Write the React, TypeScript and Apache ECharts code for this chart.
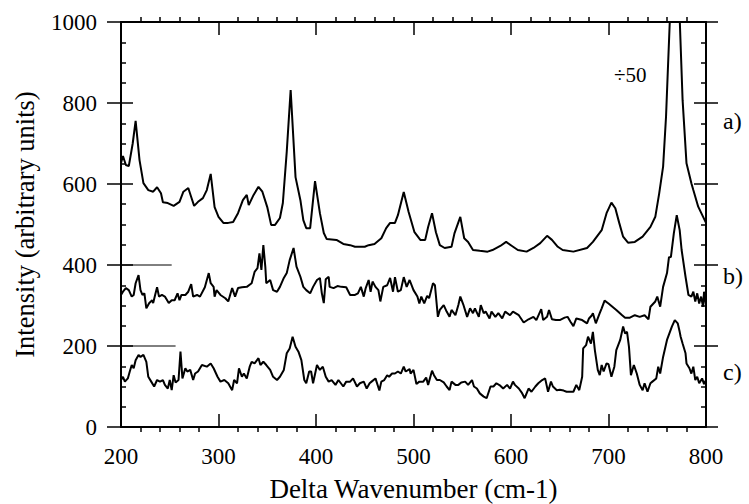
import React, { useEffect, useRef } from "react";
import * as echarts from "echarts";

// Trace a) (scaled, peak at ~770 divided by 50 and clipped at top)
const aWave = [200, 202, 205, 208, 212, 215, 219, 223, 228, 233, 237, 241, 243, 248, 254, 260, 264, 269, 272, 275, 279, 284, 288, 292, 296, 300, 305, 310, 315, 320, 325, 329, 331, 336, 341, 345, 350, 354, 358, 363, 366, 370, 374, 379, 384, 387, 390, 394, 399, 404, 408, 411, 421, 428, 435, 440, 450, 454, 460, 467, 472, 476, 481, 484, 490, 495, 501, 507, 512, 515, 519, 523, 527, 532, 539, 542, 548, 552, 556, 561, 568, 576, 581, 589, 595, 601, 607, 616, 623, 630, 637, 642, 648, 653, 664, 678, 684, 693, 698, 703, 707, 711, 715, 720, 727, 735, 743, 748, 752, 756, 759, 761, 763, 768, 773, 776, 780, 785, 787, 792, 800];
const aInt = [652, 669, 647, 644, 700, 756, 659, 602, 585, 581, 592, 577, 555, 553, 546, 556, 581, 590, 568, 546, 556, 565, 585, 625, 543, 519, 504, 504, 506, 528, 560, 573, 548, 573, 593, 581, 543, 499, 499, 516, 553, 680, 832, 617, 560, 511, 491, 491, 607, 528, 479, 464, 462, 452, 449, 445, 445, 449, 452, 466, 491, 504, 504, 523, 580, 531, 481, 462, 462, 494, 528, 481, 449, 442, 445, 478, 519, 466, 457, 437, 435, 433, 437, 447, 457, 447, 437, 433, 442, 454, 472, 462, 445, 437, 433, 442, 457, 486, 528, 554, 540, 504, 470, 455, 457, 470, 494, 519, 577, 643, 766, 889, 1010, 1090, 1010, 807, 651, 602, 585, 544, 504];

// Trace b)
const bWave = [200, 202, 205, 208, 211, 213, 215, 218, 220, 222, 224, 226, 229, 232, 233, 235, 237, 239, 242, 245, 249, 252, 255, 258, 260, 262, 266, 269, 272, 274, 278, 281, 286, 290, 292, 295, 296, 298, 302, 307, 310, 314, 317, 320, 324, 329, 334, 337, 340, 342, 344, 346, 348, 349, 353, 356, 360, 363, 367, 370, 373, 377, 380, 384, 387, 390, 394, 397, 401, 404, 406, 408, 410, 413, 414, 418, 422, 426, 431, 435, 440, 443, 446, 449, 451, 454, 456, 458, 461, 464, 466, 469, 473, 476, 479, 481, 484, 487, 490, 493, 496, 500, 504, 506, 508, 511, 514, 516, 520, 522, 525, 527, 531, 534, 537, 539, 543, 546, 548, 551, 555, 558, 561, 563, 567, 569, 572, 574, 578, 580, 584, 587, 591, 594, 599, 602, 608, 613, 618, 623, 626, 631, 633, 637, 639, 642, 646, 650, 655, 658, 661, 664, 667, 673, 678, 680, 683, 684, 687, 691, 693, 696, 700, 704, 708, 714, 717, 722, 727, 732, 737, 741, 743, 748, 750, 753, 756, 760, 762, 764, 767, 770, 773, 775, 779, 782, 785, 787, 789, 791, 793, 795, 797, 798, 800];
const bInt = [326, 334, 343, 338, 322, 326, 355, 375, 338, 326, 330, 293, 306, 313, 306, 326, 345, 322, 326, 322, 306, 313, 313, 330, 313, 326, 326, 334, 353, 322, 326, 322, 345, 380, 355, 346, 322, 338, 326, 318, 310, 343, 322, 343, 345, 346, 355, 383, 392, 429, 388, 449, 396, 355, 363, 338, 334, 346, 368, 380, 412, 442, 396, 371, 346, 338, 330, 346, 363, 368, 330, 306, 365, 371, 346, 343, 348, 346, 345, 326, 326, 330, 346, 322, 343, 363, 334, 359, 346, 338, 310, 346, 350, 368, 334, 370, 334, 338, 370, 346, 363, 338, 322, 305, 322, 305, 324, 318, 355, 350, 272, 289, 301, 285, 272, 289, 276, 301, 322, 303, 272, 293, 281, 293, 272, 301, 281, 285, 268, 285, 272, 281, 268, 285, 276, 285, 276, 258, 266, 272, 264, 291, 264, 272, 289, 266, 264, 264, 270, 272, 260, 249, 268, 264, 256, 268, 276, 281, 256, 281, 293, 312, 305, 297, 289, 276, 270, 270, 276, 272, 276, 266, 297, 310, 322, 297, 346, 380, 419, 420, 478, 523, 486, 437, 371, 326, 322, 334, 310, 330, 305, 322, 297, 334, 301];

// Trace c)
const cWave = [200, 202, 204, 207, 209, 211, 213, 215, 218, 220, 223, 226, 228, 231, 234, 237, 240, 243, 245, 248, 250, 252, 254, 256, 259, 261, 263, 266, 268, 271, 274, 276, 279, 283, 288, 292, 295, 299, 302, 306, 310, 314, 316, 319, 321, 324, 326, 329, 332, 334, 337, 341, 343, 346, 349, 353, 356, 360, 363, 367, 370, 373, 376, 379, 382, 385, 388, 390, 393, 395, 397, 401, 404, 407, 410, 413, 416, 420, 423, 428, 431, 435, 438, 442, 445, 449, 452, 455, 457, 461, 465, 467, 470, 473, 475, 478, 481, 484, 487, 490, 492, 496, 497, 500, 503, 506, 510, 513, 515, 519, 521, 524, 527, 531, 534, 537, 539, 543, 546, 549, 553, 556, 560, 562, 565, 568, 572, 575, 579, 582, 585, 589, 592, 596, 599, 602, 604, 608, 611, 614, 618, 621, 625, 628, 632, 635, 638, 641, 643, 647, 650, 654, 657, 664, 667, 670, 673, 674, 677, 679, 682, 684, 686, 689, 691, 693, 695, 698, 700, 703, 706, 708, 712, 715, 717, 719, 721, 723, 726, 729, 732, 735, 737, 740, 743, 745, 749, 751, 753, 756, 760, 765, 768, 771, 773, 774, 776, 779, 780, 783, 785, 787, 789, 791, 793, 796, 798, 800];
const cInt = [116, 124, 112, 120, 137, 153, 145, 165, 178, 173, 178, 161, 124, 112, 100, 116, 112, 116, 104, 95, 116, 91, 128, 110, 116, 186, 120, 145, 137, 141, 116, 132, 137, 153, 149, 157, 145, 124, 112, 116, 108, 91, 116, 108, 145, 124, 132, 120, 149, 161, 157, 170, 153, 161, 153, 141, 124, 116, 124, 141, 182, 194, 223, 198, 186, 165, 116, 108, 137, 137, 108, 153, 141, 149, 124, 112, 116, 104, 116, 100, 112, 112, 120, 100, 108, 112, 95, 108, 112, 120, 90, 112, 116, 128, 124, 132, 132, 137, 132, 149, 137, 143, 132, 141, 106, 112, 112, 122, 104, 139, 128, 116, 116, 110, 100, 91, 112, 104, 104, 110, 112, 104, 116, 100, 95, 83, 75, 71, 100, 100, 108, 102, 95, 104, 95, 112, 104, 95, 85, 71, 95, 87, 100, 108, 116, 120, 87, 112, 100, 91, 92, 90, 87, 87, 104, 91, 124, 194, 202, 223, 206, 235, 190, 141, 128, 153, 137, 157, 155, 124, 149, 190, 215, 248, 231, 235, 198, 128, 153, 132, 104, 91, 108, 87, 108, 112, 120, 149, 132, 173, 215, 248, 264, 256, 235, 223, 206, 182, 157, 145, 132, 149, 116, 124, 108, 120, 106, 116];

// Baseline markers for b) and c)
const bBaseWave = [200, 252];
const bBaseInt = [400, 400];
const cBaseWave = [200, 256];
const cBaseInt = [200, 200];

const xMin = 200;
const xMax = 800;
const xStep = 100;
const yMin = 0;
const yMax = 1000;
const yStep = 200;

const traceLabels = ["a)", "b)", "c)"];
const scaleNote = "÷50";

const FONT = "Liberation Serif";

function zip(xs: number[], ys: number[]) {
  return xs.map((x, i) => [x, ys[i]]);
}

export default function App() {
  const ref = useRef<HTMLDivElement>(null);

  useEffect(() => {
    if (!ref.current) return;
    const chart = echarts.init(ref.current, undefined, { renderer: "svg" });
    const black = "#000";
    const tickStyle = { color: black, width: 1.5 };
    const baseX = {
      type: "value" as const,
      min: xMin,
      max: xMax,
      interval: xStep,
      splitLine: { show: false },
    };
    const baseY = {
      type: "value" as const,
      min: yMin,
      max: yMax,
      interval: yStep,
      splitLine: { show: false },
    };
    const lineSeries = (data: number[][], width: number) => ({
      type: "line",
      xAxisIndex: 0,
      yAxisIndex: 0,
      data,
      showSymbol: false,
      symbol: "none",
      clip: true,
      lineStyle: { color: black, width },
      emphasis: { disabled: true },
    });
    const gridRect = {
      left: 121,
      top: 22,
      width: 585,
      height: 405,
      containLabel: false,
      outerBoundsMode: "none",
    };

    chart.setOption({
      animation: false,
      backgroundColor: "#fff",
      textStyle: { fontFamily: FONT },
      grid: [gridRect, { ...gridRect }],
      xAxis: [
        {
          ...baseX,
          gridIndex: 0,
          position: "bottom",
          axisLine: { show: true, onZero: false, lineStyle: { color: black, width: 2 } },
          axisTick: { show: true, inside: true, length: 13, lineStyle: tickStyle },
          axisLabel: { show: true, color: black, fontFamily: FONT, fontSize: 23, margin: 18, formatter: (v: number) => String(v) },
          name: "Delta Wavenumber (cm-1)",
          nameLocation: "middle",
          nameGap: 48,
          nameTextStyle: { color: black, fontFamily: FONT, fontSize: 27 },
        },
        {
          ...baseX,
          gridIndex: 0,
          position: "top",
          axisLine: { show: true, onZero: false, lineStyle: { color: black, width: 2 } },
          axisTick: { show: true, inside: true, length: 13, lineStyle: tickStyle },
          axisLabel: { show: false },
        },
        {
          ...baseX,
          gridIndex: 1,
          position: "bottom",
          axisLine: { show: false, onZero: false },
          axisTick: { show: false, inside: false },
          axisLabel: { show: false },
          minorTick: { show: true, splitNumber: 5, length: 5, lineStyle: tickStyle },
        },
        {
          ...baseX,
          gridIndex: 1,
          position: "top",
          axisLine: { show: false, onZero: false },
          axisTick: { show: false, inside: false },
          axisLabel: { show: false },
          minorTick: { show: true, splitNumber: 5, length: 5, lineStyle: tickStyle },
        },
      ],
      yAxis: [
        {
          ...baseY,
          gridIndex: 0,
          position: "left",
          axisLine: { show: true, onZero: false, lineStyle: { color: black, width: 2 } },
          axisTick: { show: true, inside: false, length: 14, lineStyle: tickStyle },
          axisLabel: { show: true, color: black, fontFamily: FONT, fontSize: 23, margin: 24, formatter: (v: number) => String(v) },
          name: "Intensity (arbitrary units)",
          nameLocation: "middle",
          nameGap: 83,
          nameTextStyle: { color: black, fontFamily: FONT, fontSize: 26.5 },
        },
        {
          ...baseY,
          gridIndex: 0,
          position: "right",
          axisLine: { show: true, onZero: false, lineStyle: { color: black, width: 2 } },
          axisTick: { show: true, inside: false, length: 12, lineStyle: tickStyle },
          axisLabel: { show: false },
        },
        {
          ...baseY,
          gridIndex: 1,
          position: "left",
          axisLine: { show: false, onZero: false },
          axisTick: { show: true, inside: true, length: 12, lineStyle: tickStyle },
          axisLabel: { show: false },
          minorTick: { show: true, splitNumber: 4, length: 5, lineStyle: tickStyle },
        },
        {
          ...baseY,
          gridIndex: 1,
          position: "right",
          axisLine: { show: false, onZero: false },
          axisTick: { show: true, inside: true, length: 12, lineStyle: tickStyle },
          axisLabel: { show: false },
          minorTick: { show: true, splitNumber: 4, length: 5, lineStyle: tickStyle },
        },
      ],
      series: [
        lineSeries(zip(aWave, aInt), 2),
        lineSeries(zip(bWave, bInt), 2),
        lineSeries(zip(cWave, cInt), 2),
        lineSeries(zip(bBaseWave, bBaseInt), 1),
        lineSeries(zip(cBaseWave, cBaseInt), 1),
        { type: "line", xAxisIndex: 2, yAxisIndex: 2, data: [], showSymbol: false },
        { type: "line", xAxisIndex: 3, yAxisIndex: 3, data: [], showSymbol: false },
      ],
      graphic: [
        {
          type: "text",
          x: 723,
          y: 121,
          style: { text: traceLabels[0], fill: black, fontFamily: FONT, fontSize: 24, verticalAlign: "middle" },
        },
        {
          type: "text",
          x: 723,
          y: 276,
          style: { text: traceLabels[1], fill: black, fontFamily: FONT, fontSize: 24, verticalAlign: "middle" },
        },
        {
          type: "text",
          x: 723,
          y: 372,
          style: { text: traceLabels[2], fill: black, fontFamily: FONT, fontSize: 24, verticalAlign: "middle" },
        },
        {
          type: "text",
          x: 614,
          y: 75,
          style: { text: scaleNote, fill: black, fontFamily: FONT, fontSize: 21, verticalAlign: "middle" },
        },
      ],
    });
    return () => chart.dispose();
  }, []);

  return (
    <div
      ref={ref}
      style={{ position: "fixed", left: 0, top: 0, width: 749, height: 504, background: "#fff" }}
    />
  );
}
